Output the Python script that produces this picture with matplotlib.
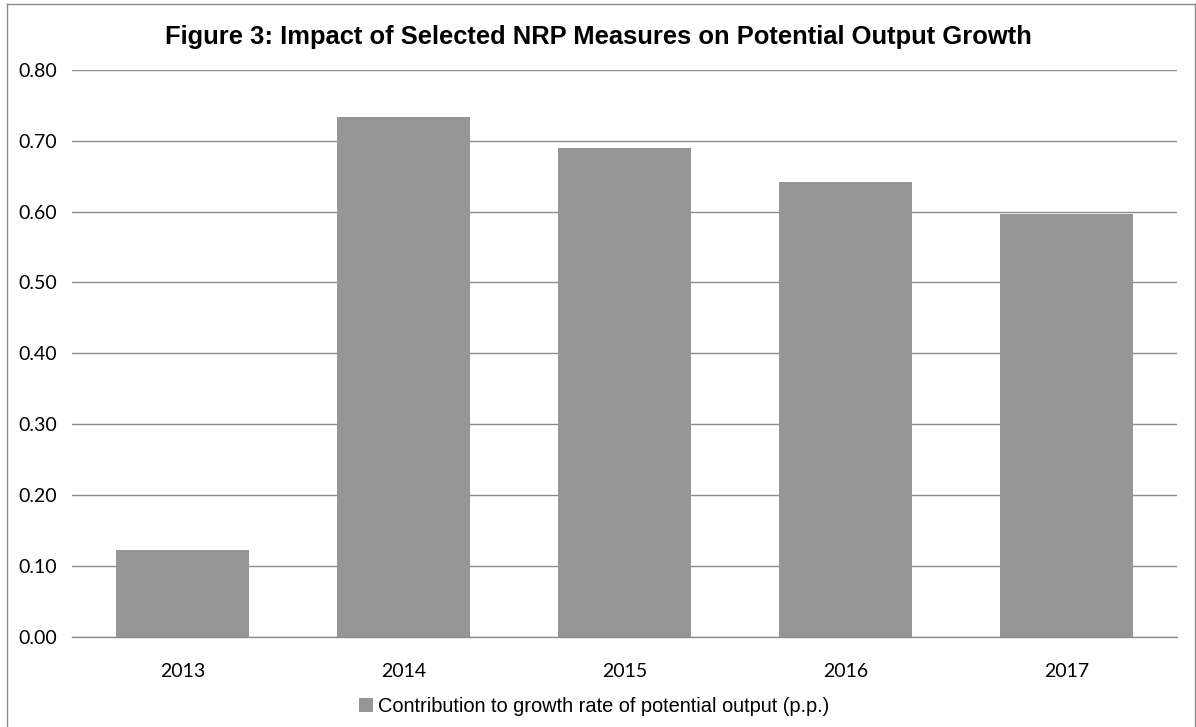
import matplotlib
matplotlib.use("Agg")
import matplotlib.pyplot as plt
from matplotlib.patches import Patch
from matplotlib.lines import Line2D

years = ["2013", "2014", "2015", "2016", "2017"]
contribution = [0.123, 0.734, 0.690, 0.642, 0.597]
yticks = [0.0, 0.1, 0.2, 0.3, 0.4, 0.5, 0.6, 0.7, 0.8]
title = "Figure 3: Impact of Selected NRP Measures on Potential Output Growth"
legend_label = "Contribution to growth rate of potential output (p.p.)"

W, H = 1196, 727
fig = plt.figure(figsize=(W / 100, H / 100), dpi=100)
ax = fig.add_axes([72 / W, 1 - 637 / H, (1177 - 72) / W, (637 - 69.7) / H])

x = list(range(len(years)))
ax.bar(x, contribution, width=0.6, color="#969696", zorder=2)
ax.set_xlim(-0.5, len(years) - 0.5)
ax.set_ylim(0, 0.8)
ax.set_yticks(yticks)
ax.set_yticklabels([f"{v:.2f}" for v in yticks], fontfamily="Lato", fontsize=14)
ax.set_xticks(x)
ax.set_xticklabels(years, fontfamily="Lato", fontsize=14)
ax.tick_params(length=0)
ax.tick_params(axis="y", pad=11)
ax.tick_params(axis="x", pad=18.5)
ax.yaxis.grid(True, color="#8c8c8c", linewidth=1)
ax.set_axisbelow(True)
for s in ["top", "right", "left"]:
    ax.spines[s].set_visible(False)
ax.spines["bottom"].set_color("#8c8c8c")
ax.spines["bottom"].set_linewidth(1)

fig.text(0.5, 1 - 37 / H, title, ha="center", va="center",
         fontfamily="Liberation Sans", fontweight="bold", fontsize=18.4)

leg = fig.legend(handles=[Patch(facecolor="#969696", edgecolor="none", label=legend_label)],
                 loc="center", bbox_to_anchor=(0.497, 1 - 706 / H), frameon=False,
                 prop={"family": "Liberation Sans", "size": 14.4},
                 handlelength=0.7, handleheight=0.7, handletextpad=0.25)

# outer border
border_col = "#8c8c8c"
fig.add_artist(Line2D([7 / W, 7 / W], [0, 1 - 4 / H], color=border_col, lw=1, transform=fig.transFigure))
fig.add_artist(Line2D([7 / W, 1195 / W], [1 - 4 / H, 1 - 4 / H], color=border_col, lw=1, transform=fig.transFigure))
fig.add_artist(Line2D([1194.5 / W, 1194.5 / W], [0, 1 - 4 / H], color=border_col, lw=1, transform=fig.transFigure))

fig.savefig("out.png", dpi=100)
